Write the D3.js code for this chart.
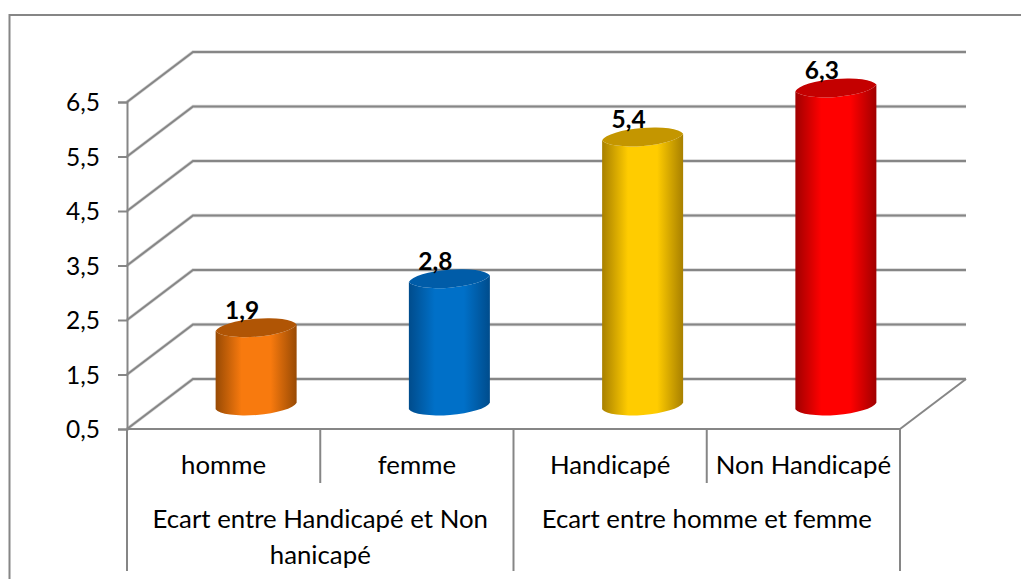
<!DOCTYPE html>
<html><head><meta charset="utf-8">
<script src="https://cdn.jsdelivr.net/npm/d3@7"></script>
<style>html,body{margin:0;padding:0;background:#fff}svg{display:block}text{font-family:Lato,"Open Sans",sans-serif;fill:#000}</style>
</head><body><svg id="c" width="1021" height="579"></svg>
<script>
const categories = ["homme","femme","Handicapé","Non Handicapé"];
const values = [1.9,2.8,5.4,6.3];
const valueLabels = ["1,9","2,8","5,4","6,3"];
const groups = [
  {lines:["Ecart entre Handicapé et Non","hanicapé"],from:0,to:2},
  {lines:["Ecart entre homme et femme"],from:2,to:4}
];
const tickValues = [0.5,1.5,2.5,3.5,4.5,5.5,6.5];
const tops = ["#B05505","#005CA8","#C49600","#C40000"];
const mids = ["#F87A0E","#0070C8","#FFCC00","#FF0000"];
const edges = ["#984A04","#004C8C","#A88000","#A00000"];

const W=1021,H=579;
const svg=d3.select("#c");
const axisC="#868686", shadow="#d4d4d4";
const depthX=66, depthY=-50;
const x=d3.scaleBand().domain(categories).range([127,900]);
const y=d3.scaleLinear().domain([0.5,6.5]).range([429,102]);
const fontSize=25.8, tickFont=24.5;

const defs=svg.append("defs");
categories.forEach((c,i)=>{
  const g=defs.append("linearGradient").attr("id","g"+i).attr("x1",0).attr("x2",1).attr("y1",0).attr("y2",0);
  g.append("stop").attr("offset","0%").attr("stop-color",edges[i]);
  g.append("stop").attr("offset","32%").attr("stop-color",mids[i]);
  g.append("stop").attr("offset","68%").attr("stop-color",mids[i]);
  g.append("stop").attr("offset","100%").attr("stop-color",edges[i]);
});

function stroke2(sel){return sel.attr("fill","none").attr("stroke",axisC).attr("stroke-width",2);}
stroke2(svg.append("path").attr("d",`M${W},15H9.5V${H}`));

const gridG=svg.append("g");
tickValues.forEach(t=>{
  const y0=y(t);
  const d=`M${x.range()[0]},${y0}L${x.range()[0]+depthX},${y0+depthY}H${x.range()[1]+depthX}`;
  gridG.append("path").attr("d",d).attr("fill","none").attr("stroke",shadow).attr("stroke-width",3.4);
  stroke2(gridG.append("path").attr("d",d));
});
stroke2(svg.append("path").attr("d",`M${x.range()[1]},${y(0.5)}L${x.range()[1]+depthX},${y(0.5)+depthY}`));

const yAxis=d3.axisLeft(y).tickValues(tickValues).tickSize(9).tickPadding(18).tickFormat(d=>String(d).replace(".",","));
const yG=svg.append("g").attr("transform",`translate(${x.range()[0]},0)`).call(yAxis);
yG.select(".domain").attr("stroke",axisC).attr("stroke-width",2);
yG.selectAll("line").attr("stroke",axisC).attr("stroke-width",2);
yG.selectAll("text").attr("font-size",tickFont).attr("dy","0.36em").attr("fill","#000");

const bottom=571, midB=483, y0=y(0.5);
stroke2(svg.append("path").attr("d",`M${x.range()[0]},${y0}H${x.range()[1]}`));
stroke2(svg.append("path").attr("d",`M${x.range()[0]},${y0}V${bottom}`));
stroke2(svg.append("path").attr("d",`M${x.range()[1]},${y0}V${bottom}`));
categories.forEach((c,i)=>{
  const p=x(c);
  if(i>0) stroke2(svg.append("path").attr("d",`M${p},${y0}V${i==2?bottom:midB}`));
  svg.append("text").attr("x",p+x.bandwidth()/2).attr("y",474).attr("text-anchor","middle").attr("font-size",fontSize).text(c);
});
groups.forEach(g=>{
  const cx=(x(categories[g.from])+x(categories[g.to-1])+x.bandwidth())/2;
  g.lines.forEach((l,j)=>{
    svg.append("text").attr("x",cx).attr("y",528+j*36).attr("text-anchor","middle").attr("font-size",fontSize).text(l);
  });
});

const rx=41.2, ry=10.8, rot=-4.7, slope=3.3;
const base=y0+depthY/2+2;
categories.forEach((c,i)=>{
  const cx=x(c)+x.bandwidth()/2+depthX/2-0.5;
  const L=cx-40.5,R=cx+40.5;
  const ty=base-(y(0.5)-y(values[i]))-2;
  svg.append("path")
    .attr("d",`M${L},${ty+slope}L${L},${base+slope}A${rx},${ry} ${rot} 0 0 ${R},${base-slope}L${R},${ty-slope}A${rx},${ry} ${rot} 0 1 ${L},${ty+slope}Z`)
    .attr("fill",`url(#g${i})`);
  svg.append("path")
    .attr("d",`M${L},${ty+slope}A${rx},${ry} ${rot} 0 1 ${R},${ty-slope}A${rx},${ry} ${rot} 0 1 ${L},${ty+slope}Z`)
    .attr("fill",tops[i]);
  svg.append("text").attr("x",cx-14).attr("y",ty-9).attr("text-anchor","middle")
    .attr("font-size",24.5).attr("font-weight",700).text(valueLabels[i]);
});
</script></body></html>
